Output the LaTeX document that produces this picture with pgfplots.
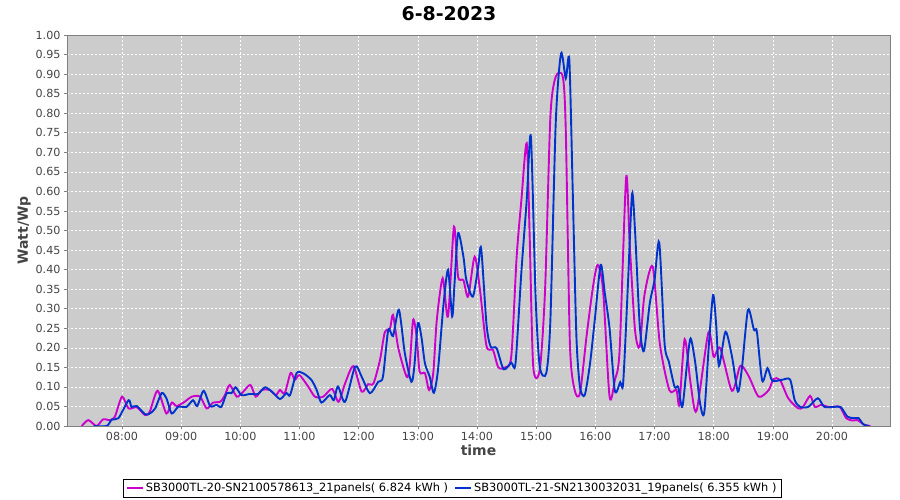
\documentclass[border=0pt]{standalone}
\usepackage{fontspec}
\setmainfont{DejaVu Sans}
\usepackage{pgfplots}
\pgfplotsset{compat=1.18}
\definecolor{bg}{RGB}{204,204,204}
\definecolor{mag}{RGB}{204,0,204}
\definecolor{blu}{RGB}{0,51,204}
\definecolor{tickc}{RGB}{68,68,68}
\definecolor{axc}{RGB}{128,128,128}
\begin{document}
\begin{tikzpicture}
\useasboundingbox (0bp,0bp) rectangle (900bp,500bp);
\node[font=\fontsize{19}{22}\selectfont\bfseries] at (449bp,486bp) {6-8-2023};
\begin{axis}[
  at={(67bp,74bp)}, anchor=south west,
  scale only axis, width=823bp, height=391bp,
  xmin=7.07, xmax=20.98, ymin=0, ymax=1,
  axis background/.style={fill=bg},
  axis line style={draw=axc, line width=0.8bp},
  xtick={8,9,10,11,12,13,14,15,16,17,18,19,20},
  xticklabels={08:00,09:00,10:00,11:00,12:00,13:00,14:00,15:00,16:00,17:00,18:00,19:00,20:00},
  ytick={0,0.05,...,1.001},
  yticklabel style={/pgf/number format/fixed, /pgf/number format/fixed zerofill, /pgf/number format/precision=2},
  /pgf/number format/assume math mode=true,
  tick label style={font=\fontsize{11.2}{13}\selectfont, text=tickc},
  tick align=outside, tick pos=left,
  major tick length=3bp,
  tick style={draw=axc, line width=0.5bp},
  grid=major,
  major grid style={draw=white, dashed, line width=0.5bp, dash pattern=on 2bp off 2bp},
  xlabel={time}, ylabel={Watt/Wp},
  label style={font=\fontsize{14}{16}\selectfont\bfseries, text=tickc},
  xlabel style={yshift=3bp},
  ylabel style={yshift=-2bp},
  legend columns=2,
  legend style={at={(0.468,-0.159)}, anchor=center, draw=black, line width=0.6bp,
    font=\fontsize{11.4}{13}\selectfont, inner xsep=3bp, inner ysep=2bp,
    /tikz/every even column/.append style={column sep=4bp}},
  legend image code/.code={\draw[#1, line width=2bp] (0bp,0bp) -- (16bp,0bp);},
  every axis plot/.append style={smooth, tension=0.45, line width=1.9bp},
]
\addplot[mag] coordinates {
(7.32,0) (7.43,0.015) (7.57,0) (7.68,0.017) (7.80,0.015) (7.88,0.024) (8.00,0.075)
(8.11,0.045) (8.25,0.048) (8.39,0.028) (8.47,0.037) (8.60,0.090) (8.75,0.032) (8.84,0.060)
(8.92,0.051) (9.04,0.060) (9.18,0.075) (9.32,0.075) (9.43,0.045) (9.54,0.060) (9.66,0.062)
(9.74,0.079) (9.82,0.105) (9.94,0.075) (10.05,0.088) (10.17,0.105) (10.26,0.075) (10.36,0.092)
(10.50,0.092) (10.60,0.079) (10.67,0.092) (10.75,0.084) (10.85,0.136) (10.92,0.118) (11.00,0.130)
(11.15,0.100) (11.26,0.075) (11.40,0.075) (11.55,0.095) (11.66,0.062) (11.77,0.109) (11.91,0.153)
(12.05,0.088) (12.16,0.107) (12.25,0.109) (12.36,0.169) (12.44,0.239) (12.53,0.250) (12.58,0.284)
(12.67,0.199) (12.81,0.126) (12.86,0.152) (12.92,0.271) (12.98,0.228) (13.03,0.139) (13.12,0.135)
(13.19,0.092) (13.26,0.135) (13.32,0.271) (13.42,0.378) (13.51,0.280) (13.61,0.510) (13.68,0.382)
(13.77,0.373) (13.85,0.331) (13.96,0.433) (14.05,0.348) (14.16,0.205) (14.27,0.194) (14.36,0.150)
(14.48,0.150) (14.58,0.180) (14.67,0.433) (14.75,0.578) (14.84,0.723) (14.89,0.484) (14.95,0.152)
(15.06,0.143) (15.15,0.348) (15.24,0.791) (15.33,0.893) (15.45,0.893) (15.50,0.757) (15.57,0.210)
(15.65,0.092) (15.74,0.084) (15.85,0.228) (15.96,0.356) (16.04,0.412) (16.13,0.348) (16.24,0.075)
(16.33,0.118) (16.41,0.194) (16.52,0.635) (16.58,0.467) (16.67,0.246) (16.75,0.203) (16.83,0.335)
(16.97,0.407) (17.09,0.210) (17.25,0.092) (17.37,0.092) (17.42,0.056) (17.51,0.222) (17.61,0.109)
(17.71,0.039) (17.91,0.239) (18.00,0.177) (18.11,0.199) (18.31,0.090) (18.45,0.154) (18.59,0.128)
(18.76,0.075) (18.93,0.092) (19.01,0.120) (19.12,0.118) (19.26,0.071) (19.43,0.045) (19.51,0.049)
(19.63,0.077) (19.71,0.049) (19.82,0.054) (19.96,0.048) (20.13,0.049) (20.24,0.020) (20.35,0.014)
(20.43,0.015) (20.55,0.003) (20.65,0)
};
\addlegendentry{SB3000TL-20-SN2100578613\_21panels( 6.824 kWh )}
\addplot[blu] coordinates {
(7.52,0) (7.74,0) (7.83,0.017) (7.94,0.020) (8.11,0.066) (8.16,0.049) (8.25,0.051) (8.39,0.030)
(8.47,0.032) (8.56,0.045) (8.67,0.084) (8.75,0.071) (8.84,0.032) (8.95,0.049) (9.09,0.049)
(9.20,0.066) (9.27,0.051) (9.38,0.090) (9.49,0.051) (9.60,0.054) (9.68,0.049) (9.77,0.084)
(9.85,0.084) (9.92,0.099) (10.02,0.079) (10.16,0.082) (10.30,0.082) (10.42,0.099) (10.56,0.084)
(10.67,0.069) (10.78,0.084) (10.84,0.079) (10.95,0.135) (11.06,0.135) (11.20,0.118) (11.29,0.092)
(11.37,0.060) (11.51,0.079) (11.58,0.066) (11.65,0.101) (11.77,0.062) (11.94,0.152) (12.05,0.126)
(12.19,0.084) (12.33,0.113) (12.41,0.126) (12.50,0.246) (12.58,0.230) (12.68,0.297) (12.78,0.186)
(12.89,0.113) (12.94,0.152) (13.00,0.263) (13.06,0.228) (13.12,0.160) (13.20,0.126) (13.27,0.085)
(13.34,0.143) (13.43,0.305) (13.51,0.399) (13.58,0.280) (13.62,0.365) (13.68,0.493) (13.77,0.433)
(13.82,0.373) (13.93,0.331) (14.02,0.407) (14.07,0.454) (14.16,0.260) (14.23,0.203) (14.33,0.199)
(14.45,0.145) (14.58,0.162) (14.65,0.160) (14.75,0.395) (14.84,0.578) (14.91,0.740) (14.99,0.331)
(15.06,0.152) (15.17,0.135) (15.24,0.271) (15.33,0.774) (15.42,0.953) (15.50,0.889) (15.56,0.936)
(15.62,0.586) (15.68,0.228) (15.74,0.100) (15.82,0.079) (15.91,0.160) (15.99,0.271) (16.09,0.412)
(16.16,0.339) (16.24,0.250) (16.33,0.090) (16.42,0.112) (16.47,0.110) (16.55,0.360) (16.62,0.593)
(16.67,0.501) (16.75,0.258) (16.82,0.192) (16.92,0.314) (17.00,0.373) (17.08,0.469) (17.17,0.211)
(17.24,0.166) (17.34,0.100) (17.40,0.100) (17.47,0.049) (17.55,0.160) (17.61,0.224) (17.69,0.160)
(17.77,0.058) (17.84,0.034) (17.92,0.211) (17.99,0.335) (18.04,0.263) (18.09,0.154) (18.20,0.241)
(18.31,0.177) (18.41,0.088) (18.48,0.152) (18.58,0.297) (18.68,0.246) (18.73,0.241) (18.82,0.116)
(18.91,0.148) (18.99,0.116) (19.15,0.118) (19.29,0.119) (19.37,0.066) (19.46,0.049) (19.60,0.049)
(19.76,0.071) (19.87,0.049) (20.04,0.049) (20.15,0.048) (20.26,0.024) (20.37,0.020) (20.45,0.020)
(20.53,0.004) (20.62,0)
};
\addlegendentry{SB3000TL-21-SN2130032031\_19panels( 6.355 kWh )}
\end{axis}
\end{tikzpicture}
\end{document}
